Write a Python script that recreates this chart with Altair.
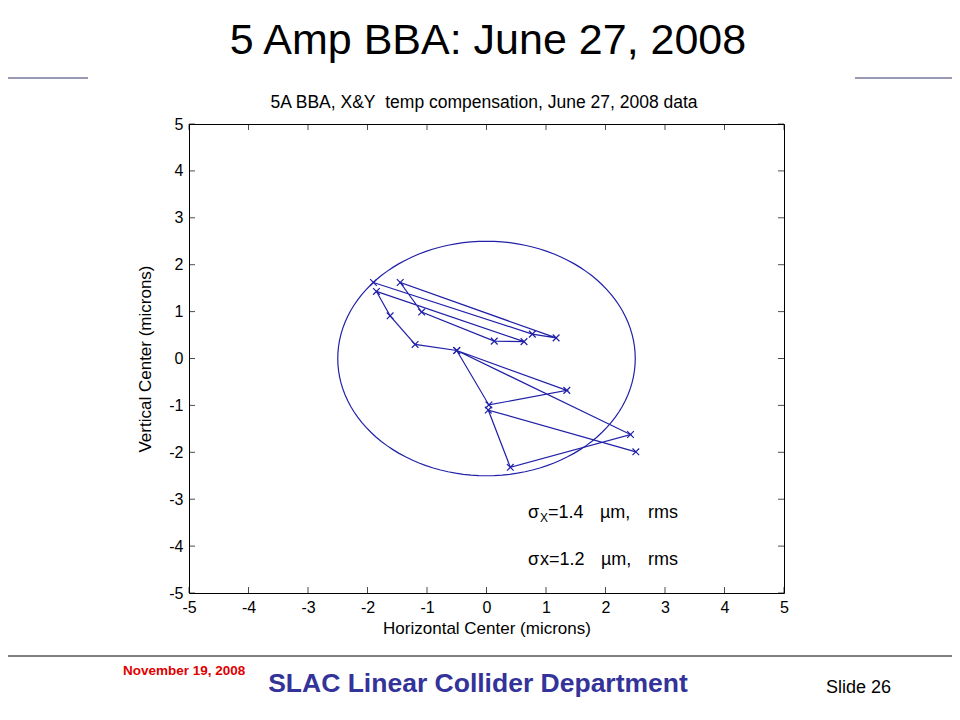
import altair as alt
import pandas as pd
import numpy as np

# ---- data ----
path_x = [-1.90, 0.77, 1.17, -1.45, -1.09, 0.13, 0.63, -1.85, -1.62, -1.20, -0.50,
          0.04, 1.35, -0.50, 2.42, 0.40, 0.03, 2.51]
path_y = [1.62, 0.52, 0.44, 1.62, 0.99, 0.37, 0.36, 1.43, 0.91, 0.30, 0.17,
          -0.99, -0.68, 0.17, -1.62, -2.32, -1.10, -1.99]
circle_radius = 2.5
tick_values = [-5, -4, -3, -2, -1, 0, 1, 2, 3, 4, 5]

W, H = 595, 469
BLUE = "#2020a8"
FONT = "Liberation Sans"

path_df = pd.DataFrame({"x": path_x, "y": path_y, "i": list(range(len(path_x)))})
theta = np.linspace(0, 2 * np.pi, 121)
circ_df = pd.DataFrame({"x": circle_radius * np.cos(theta),
                        "y": circle_radius * np.sin(theta),
                        "i": list(range(len(theta)))})
ticks_df = pd.DataFrame({"v": tick_values})
one = pd.DataFrame({"a": [0]})

xs = alt.Scale(domain=[-5, 5], nice=False, zero=False)
ys = alt.Scale(domain=[-5, 5], nice=False, zero=False)

x_axis = alt.Axis(values=tick_values, ticks=False, domain=False, grid=False,
                  labelExpr="'' + datum.value", labelFlush=False,
                  labelFontSize=16, labelFont=FONT, labelColor="black", labelPadding=6,
                  title="Horizontal Center (microns)", titleFont=FONT, titleFontSize=17,
                  titleFontWeight="normal", titleColor="black", titlePadding=5)
y_axis = alt.Axis(values=tick_values, ticks=False, domain=False, grid=False,
                  labelExpr="'' + datum.value", labelFlush=False,
                  labelFontSize=16, labelFont=FONT, labelColor="black", labelPadding=6,
                  title="Vertical Center (microns)", titleFont=FONT, titleFontSize=17,
                  titleFontWeight="normal", titleColor="black", titlePadding=14)

circle = alt.Chart(circ_df).mark_line(color=BLUE, strokeWidth=1.2).encode(
    x=alt.X("x:Q", scale=xs, axis=x_axis),
    y=alt.Y("y:Q", scale=ys, axis=y_axis),
    order="i:Q",
)
line = alt.Chart(path_df).mark_line(color=BLUE, strokeWidth=1.2).encode(
    x=alt.X("x:Q", scale=xs), y=alt.Y("y:Q", scale=ys), order="i:Q")
marks = alt.Chart(path_df).mark_point(
    shape="M-1,-1L1,1M-1,1L1,-1", filled=False, color=BLUE, size=45, strokeWidth=1.2,
    opacity=1).encode(x=alt.X("x:Q", scale=xs), y=alt.Y("y:Q", scale=ys))

# inward ticks on all four sides (MATLAB box)
TL = 6
tb = alt.Chart(ticks_df).mark_tick(color="black", thickness=1, size=TL, orient="vertical").encode(
    x=alt.X("v:Q", scale=xs), y=alt.value(H - TL / 2))
tt = alt.Chart(ticks_df).mark_tick(color="black", thickness=1, size=TL, orient="vertical").encode(
    x=alt.X("v:Q", scale=xs), y=alt.value(TL / 2))
tl = alt.Chart(ticks_df).mark_tick(color="black", thickness=1, size=TL, orient="horizontal").encode(
    y=alt.Y("v:Q", scale=ys), x=alt.value(TL / 2))
tr = alt.Chart(ticks_df).mark_tick(color="black", thickness=1, size=TL, orient="horizontal").encode(
    y=alt.Y("v:Q", scale=ys), x=alt.value(W - TL / 2))


def txt(s, x, y, size, color="black", weight="normal", align="center", baseline="middle"):
    return alt.Chart(one).mark_text(fontSize=size, font=FONT, color=color, fontWeight=weight,
                                    align=align, baseline=baseline).encode(
        x=alt.value(x), y=alt.value(y), text=alt.value(s))


def hline(x1, x2, y, color="black", w=1):
    return alt.Chart(one).mark_rule(color=color, strokeWidth=w).encode(
        x=alt.value(x1), x2=alt.value(x2), y=alt.value(y))

OX, OY = 189, 124  # plot origin on the page

layers = [
    circle, line, marks, tb, tt, tl, tr,
    txt("5A BBA, X&Y\u00a0\u00a0temp compensation, June 27, 2008 data", 484 - OX, 103 - OY, 17.5),
    txt("5 Amp BBA: June 27, 2008", 488 - OX, 41 - OY, 43),
    hline(0 - OX, 88 - OX, 78 - OY, color="#333366"),
    hline(855 - OX, 960 - OX, 78 - OY, color="#333366"),
    hline(0 - OX, 960 - OX, 656 - OY, color="black"),
    txt("November 19, 2008", 123 - OX, 671 - OY, 13.5, color="#e00000", weight="bold", align="left"),
    txt("SLAC Linear Collider Department", 478 - OX, 684 - OY, 26.5, color="#333399", weight="bold"),
    txt("Slide 26", 826 - OX, 688 - OY, 18, align="left"),
    # annotation line 1
    txt("σ", 528 - OX, 513 - OY, 18, align="left"),
    txt("X", 540 - OX, 518 - OY, 12, align="left"),
    txt("=1.4", 548 - OX, 513 - OY, 18, align="left"),
    txt("µm,", 600 - OX, 513 - OY, 18, align="left"),
    txt("rms", 648 - OX, 513 - OY, 18, align="left"),
    # annotation line 2
    txt("σ", 528 - OX, 560 - OY, 18, align="left"),
    txt("x", 540 - OX, 560 - OY, 18, align="left"),
    txt("=1.2", 549 - OX, 560 - OY, 18, align="left"),
    txt("µm,", 601 - OX, 560 - OY, 18, align="left"),
    txt("rms", 648 - OX, 560 - OY, 18, align="left"),
]

chart = alt.layer(*layers).properties(
    width=W, height=H,
    autosize=alt.AutoSizeParams(type="none"),
    padding={"left": OX - 8, "top": OY - 8, "right": 944 - (OX - 8) - W, "bottom": 704 - (OY - 8) - H},
    background="white",
).configure_view(stroke="black", strokeWidth=1)

chart.save("out.html", embed_options={"renderer": "svg", "actions": False})
